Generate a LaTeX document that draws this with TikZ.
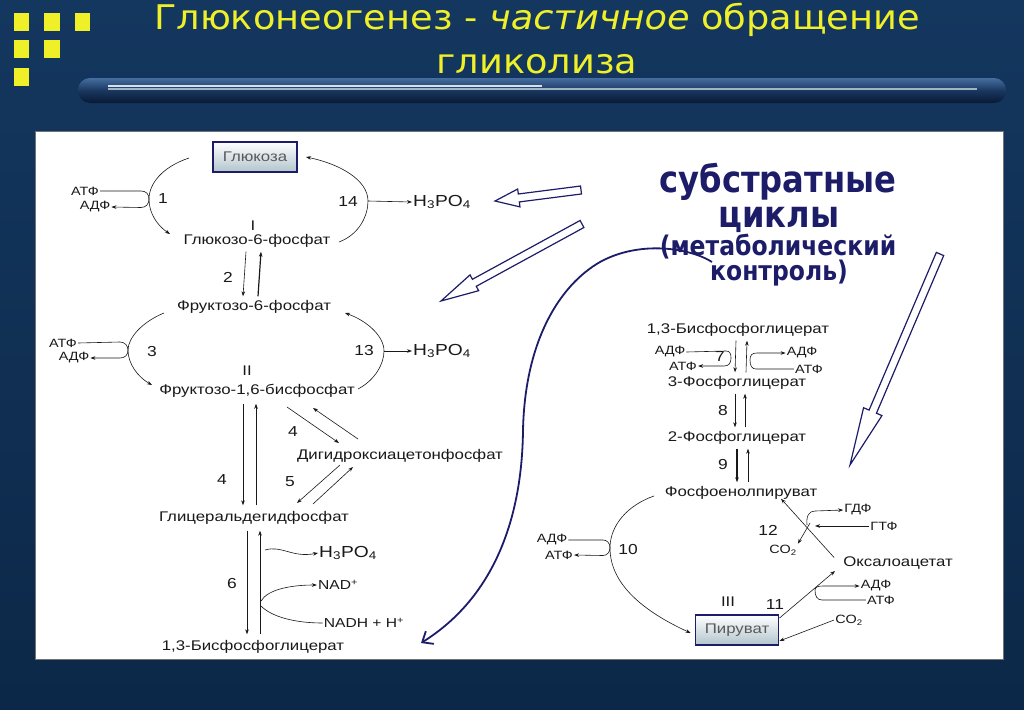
\documentclass[tikz,border=0pt]{standalone}
\usepackage{fontspec}
\setmainfont{Liberation Sans}
\newfontfamily\lab[FakeStretch=1.2]{Liberation Sans}
\newfontfamily\ttlfont[FakeStretch=1.08]{DejaVu Sans}
\newfontfamily\subfont[FakeStretch=0.87]{DejaVu Sans}
\usetikzlibrary{arrows.meta,calc}
\definecolor{bgA}{RGB}{20,55,95}
\definecolor{bgB}{RGB}{12,40,72}
\definecolor{ttl}{RGB}{240,240,40}
\definecolor{navy}{RGB}{28,28,105}
\definecolor{ink}{RGB}{25,25,25}
\newcommand\hollowarr[4]{%
  \coordinate (hb) at ($(#2)!#3!(#1)$);
  \draw[harrow] ($(#1)!4pt!90:(#2)$) -- ($(hb)!4pt!90:(#2)$) -- ($(hb)!#4!90:(#2)$) -- (#2)
    -- ($(hb)!#4!-90:(#2)$) -- ($(hb)!4pt!-90:(#2)$) -- ($(#1)!4pt!-90:(#2)$) -- cycle;}
\begin{document}
\begin{tikzpicture}[x=1pt,y=-1pt,
  >={Stealth[length=5pt,width=3.6pt]},
  lbl/.style={font=\lab\fontsize{14}{16}\selectfont, text=ink, inner sep=1pt},
  sml/.style={font=\lab\fontsize{12}{13}\selectfont, text=ink, inner sep=1pt},
  medl/.style={font=\lab\fontsize{13}{15}\selectfont, text=ink, inner sep=1pt},
  phos/.style={font=\lab\fontsize{16}{18}\selectfont, text=ink, inner sep=1pt},
  numl/.style={font=\lab\fontsize{14.5}{16}\selectfont, text=ink, inner sep=1pt},
  box/.style={draw=navy, line width=1.8pt, top color=white, bottom color={rgb,255:red,178;green,196;blue,204}, minimum width=84pt, minimum height=30pt, font=\lab\fontsize{14}{16}\selectfont, text=black!65},
  ln/.style={draw=ink, line width=0.6pt},
  bl/.style={draw=ink, line width=1.2pt},
  harrow/.style={draw=navy, line width=1.2pt, fill=white, line join=miter},
  big/.style={anchor=base, inner sep=0pt, text=navy, font=\subfont\bfseries\fontsize{37}{40}\selectfont},
  bigs/.style={anchor=base, inner sep=0pt, text=navy, font=\subfont\bfseries\fontsize{27}{30}\selectfont},
  title/.style={anchor=base, text=ttl, font=\ttlfont\fontsize{34}{38}\selectfont, inner sep=0pt}
]
\useasboundingbox (0,0) rectangle (1024,709);
% background
\shade[top color=bgA, bottom color=bgB] (0,0) rectangle (1024,709);
% yellow squares
\fill[ttl] (14,13) rectangle (29,31); \fill[ttl] (44,13) rectangle (60,31); \fill[ttl] (75,13) rectangle (90,31);
\fill[ttl] (14,40) rectangle (29,58); \fill[ttl] (44,40) rectangle (60,58);
\fill[ttl] (14,68) rectangle (29,86);
% title bar
\shade[rounded corners=12pt, top color={rgb,255:red,70;green,110;blue,160}, bottom color={rgb,255:red,8;green,25;blue,52}, middle color={rgb,255:red,25;green,55;blue,95}] (78,78) rectangle (1006,103);
\draw[line width=1.2pt, color={rgb,255:red,215;green,225;blue,232}] (108,86) -- (542,86);
\draw[line width=1.2pt, color={rgb,255:red,160;green,180;blue,198}] (108,89) -- (977,89);
% title
\node[title] (t1) at (537,30) {Глюконеогенез - \textit{частичное} обращение};
\node[title] (t2) at (537,74) {гликолиза};
% panel
\fill[white] (35,131) rectangle (1003,659);
\draw[black!55, line width=0.8pt] (35,131) rectangle (1003,659);

% ===== left chain =====
\node[box] (glc) at (255,157) {Глюкоза};
\node[lbl] (g6p) at (257,241) {Глюкозо-6-фосфат};
\node[lbl] (f6p) at (254,307) {Фруктозо-6-фосфат};
\node[lbl] (fbp) at (257,391) {Фруктозо-1,6-бисфосфат};
\node[lbl] (dhap) at (400,456) {Дигидроксиацетонфосфат};
\node[lbl] (gap) at (254,518) {Глицеральдегидфосфат};
\node[lbl] (bpg) at (253,647) {1,3-Бисфосфоглицерат};
\node[lbl] (r1) at (253,226) {I};
\node[lbl] (r2) at (247,371) {II};

\node[sml] (atp1) at (85,191) {АТФ};
\node[sml] (adp1) at (95,207) {АДФ};
\node[sml] (atp3) at (63,343) {АТФ};
\node[sml] (adp3) at (74,358) {АДФ};
\node[phos] (pi1) at (442,202) {H\textsubscript{3}PO\textsubscript{4}};
\node[phos] (pi2) at (442,351) {H\textsubscript{3}PO\textsubscript{4}};
\node[phos] (pi3) at (348,553) {H\textsubscript{3}PO\textsubscript{4}};
\node[medl] (nad) at (338,585) {NAD\textsuperscript{+}};
\node[medl] (nadh) at (364,623) {NADH + H\textsuperscript{+}};

\node[numl] (n1) at (163,199) {1};
\node[numl] (n14) at (348,202) {14};
\node[numl] (n2) at (228,277) {2};
\node[numl] (n3) at (152,352) {3};
\node[numl] (n13) at (364,351) {13};
\node[numl] (n4a) at (222,480) {4};
\node[numl] (n4b) at (293,432) {4};
\node[numl] (n5) at (290,482) {5};
\node[numl] (n6) at (232,583) {6};

% cycle 1
\coordinate (c1) at (149,199);
\draw[ln,->] (189,158) .. controls (162,167) and (149,184) .. (c1) .. controls (149,214) and (158,226) .. (170,234);
\draw[ln] (atp1.east) -- (141,191) .. controls (146,191) and (149,194) .. (c1);
\draw[ln,->] (c1) .. controls (149,204) and (146,207.5) .. (141,207.5) -- (adp1.east);
% cycle 14
\coordinate (c14) at (368,201);
\draw[ln,->] (339,242) .. controls (360,234) and (368,215) .. (c14) .. controls (368,180) and (340,164) .. (306,157);
\draw[ln,->] (c14) -- (pi1.west);
% g6p <-> f6p
\draw[ln,->] ([xshift=-11pt,yshift=-3pt]g6p.south) -- ([xshift=-11pt,yshift=3pt]f6p.north);
\draw[bl,->] ([xshift=4pt,yshift=3pt]f6p.north) -- ([xshift=4pt,yshift=-3pt]g6p.south);
% cycle 3
\coordinate (c3) at (128,350);
\draw[ln,->] (164,313) .. controls (142,322) and (128,338) .. (c3) .. controls (128,364) and (138,377) .. (152,385);
\draw[ln] (atp3.east) -- (120,342) .. controls (125,342) and (128,346) .. (c3);
\draw[ln,->] (c3) .. controls (128,355) and (125,358) .. (120,358) -- (adp3.east);
% cycle 13
\coordinate (c13) at (384,351);
\draw[ln,->] (358,389) .. controls (375,380) and (384,364) .. (c13) .. controls (384,335) and (365,320) .. (345,313);
\draw[ln,->] (c13) -- (pi2.west);
% fbp <-> gap
\draw[ln,->] ([xshift=-14pt,yshift=-5pt]fbp.south) -- ([xshift=-11pt,yshift=5pt]gap.north);
\draw[ln,->] ([xshift=2pt,yshift=5pt]gap.north) -- ([xshift=-1pt,yshift=-5pt]fbp.south);
% fbp <-> dhap <-> gap
\draw[ln,->] (287,407) -- (339,443);
\draw[ln,->] (358,439) -- (313,408);
\draw[ln,->] (340,465) -- (297,503);
\draw[ln,->] (313,504) -- (353,467);
% gap <-> bpg
\draw[ln,->] ([xshift=-7pt,yshift=-5pt]gap.south) -- ([xshift=-6pt,yshift=5pt]bpg.north);
\draw[ln,->] ([xshift=7pt,yshift=5pt]bpg.north) -- ([xshift=6pt,yshift=-5pt]gap.south);
\draw[ln,->] (265,550) .. controls (282,545) and (292,558) .. (pi3.west);
\draw[ln,->] (261,601) .. controls (268,589) and (292,585) .. (nad.west);
\draw[ln] (261,606) .. controls (272,617) and (295,623) .. (nadh.west);

% ===== right chain =====
\node[lbl] (bpg2) at (738,330) {1,3-Бисфосфоглицерат};
\node[lbl] (pg3) at (737,383) {3-Фосфоглицерат};
\node[lbl] (pg2) at (737,438) {2-Фосфоглицерат};
\node[lbl] (pep) at (741,493) {Фосфоенолпируват};
\node[lbl] (oaa) at (898,563) {Оксалоацетат};
\node[box, minimum width=83pt] (pyr) at (737,630) {Пируват};
\node[lbl] (r3) at (728,602) {III};

\node[sml] (adp7) at (670,352) {АДФ};
\node[sml] (atp7) at (683,366) {АТФ};
\node[sml] (adp7r) at (802,353) {АДФ};
\node[sml] (atp7r) at (809,369) {АТФ};
\node[sml] (adp10) at (552,540) {АДФ};
\node[sml] (atp10) at (559,555) {АТФ};
\node[sml] (gdp) at (858,510) {ГДФ};
\node[sml] (gtp) at (884,526) {ГТФ};
\node[sml] (co2a) at (783,550) {CO\textsubscript{2}};
\node[sml] (adp11) at (876,586) {АДФ};
\node[sml] (atp11) at (881,600) {АТФ};
\node[sml] (co2b) at (849,620) {CO\textsubscript{2}};

\node[numl] (n7) at (720,357) {7};
\node[numl] (n8) at (723,411) {8};
\node[numl] (n9) at (723,465) {9};
\node[numl] (n10) at (628,550) {10};
\node[numl] (n11) at (775,605) {11};
\node[numl] (n12) at (768,530) {12};

% 7
\draw[ln,->] ([xshift=-2pt,yshift=-3pt]bpg2.south) -- ([xshift=-2pt,yshift=3pt]pg3.north);
\draw[ln,->] ([xshift=9pt,yshift=3pt]pg3.north) -- ([xshift=9pt,yshift=-3pt]bpg2.south);
\coordinate (b7l) at (731,358);
\draw[ln] (adp7.east) -- (726,351) .. controls (730,351) and (731,354) .. (b7l);
\draw[ln,->] (b7l) .. controls (731,363) and (729,366) .. (724,366) -- (atp7.east);
\coordinate (b7r) at (750,360);
\draw[ln,->] (b7r) .. controls (750,355) and (752,353) .. (757,353) -- (adp7r.west);
\draw[ln] (atp7r.west) -- (756,369) .. controls (752,369) and (750,366) .. (b7r);
% 8
\draw[ln,->] ([xshift=-2pt,yshift=-3pt]pg3.south) -- ([xshift=-2pt,yshift=3pt]pg2.north);
\draw[ln,->] ([xshift=8pt,yshift=3pt]pg2.north) -- ([xshift=8pt,yshift=-3pt]pg3.south);
% 9
\draw[bl,->] ([xshift=0pt,yshift=-3pt]pg2.south) -- ([xshift=-4pt,yshift=3pt]pep.north);
\draw[ln,->] ([xshift=7pt,yshift=3pt]pep.north) -- ([xshift=11pt,yshift=-3pt]pg2.south);
% 10
\coordinate (c10) at (610,548);
\draw[ln,->] (654,496) .. controls (628,505) and (610,525) .. (c10) .. controls (610,585) and (645,612) .. ([xshift=-4pt,yshift=-3pt]pyr.west);
\draw[ln] (adp10.east) -- (603,540) .. controls (607,540) and (610,543) .. (c10);
\draw[ln,->] (c10) .. controls (610,552) and (607,555.5) .. (603,555.5) -- (atp10.east);
% 11
\coordinate (c11) at (815,590);
\draw[ln,->] ([yshift=-4pt]pyr.north east) -- (835,571);
\draw[ln] (atp11.west) -- (822,600) .. controls (817,600) and (815,596) .. (c11);
\draw[ln,->] (c11) .. controls (815,587) and (818,586) .. (823,586) -- (adp11.west);
\draw[ln,->] (co2b.west) -- ([yshift=-11pt]pyr.east);
% 12
\coordinate (c12) at (807,525);
\draw[ln,->] ([xshift=-8pt,yshift=-2pt]oaa.north west) -- ([xshift=40pt,yshift=2pt]pep.south);
\draw[ln,->] (gtp.west) -- (815,526);
\draw[ln,->] (c12) .. controls (806,516) and (809,511) .. (815,511) -- (gdp.west);
\draw[ln,->] (810,523) -- (co2a.north east);

% ===== blue annotation =====
\node[big] (s1) at (778,192) {субстратные};
\node[big] (s2) at (779,227) {циклы};
\node[bigs] (s3) at (778,255) {(метаболический};
\node[bigs] (s4) at (779,280) {контроль)};

\coordinate (cs) at (712,262);
\coordinate (ce) at (421,643);
\draw[navy, line width=1.8pt, -{Straight Barb[length=9pt,width=15pt]}] (cs) .. controls (690,248) and (640,240) .. (600,262) .. controls (560,285) and (525,340) .. (523,430) .. controls (522,525) and (490,600) .. (ce);

\coordinate (a1t) at (581,190); \coordinate (a1h) at (495,201);
\hollowarr{a1t}{a1h}{24pt}{9pt}
\coordinate (a2t) at (582,224); \coordinate (a2h) at (441,301);
\hollowarr{a2t}{a2h}{38pt}{9pt}
\coordinate (a3t) at (940,254); \coordinate (a3h) at (850,465);
\hollowarr{a3t}{a3h}{58pt}{10pt}
\end{tikzpicture}
\end{document}
